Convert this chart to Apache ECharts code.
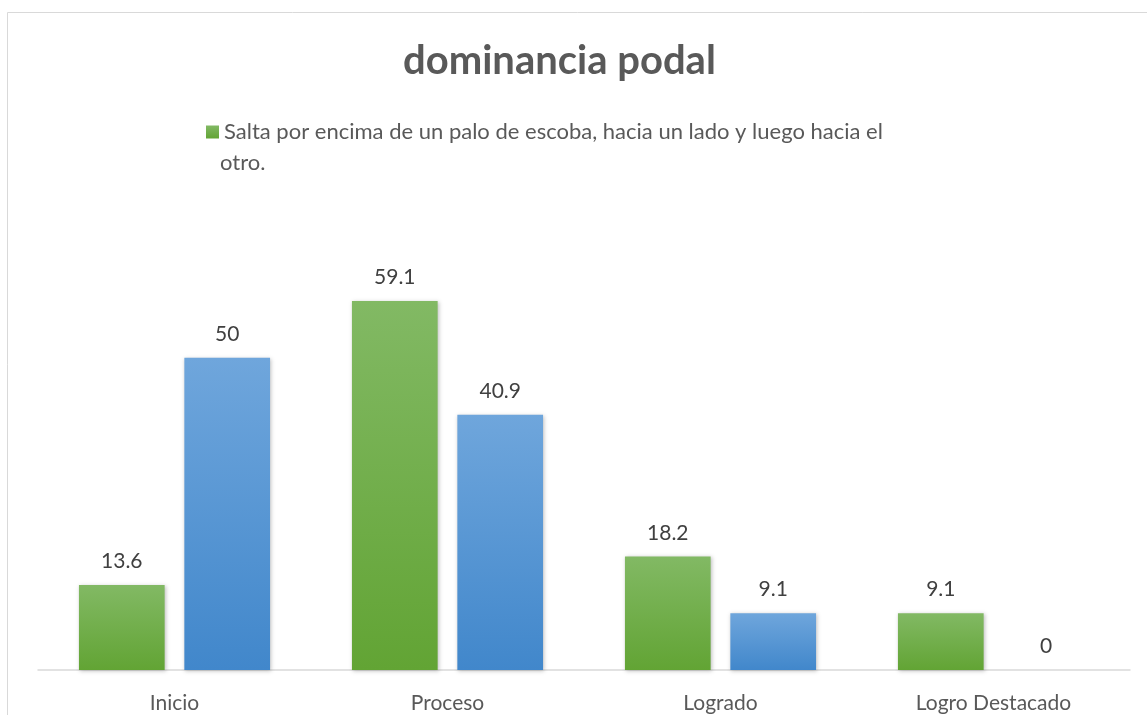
<!DOCTYPE html>
<html>
<head>
    <meta charset="utf-8">
    <title>dominancia podal</title>
    <script src="https://cdn.jsdelivr.net/npm/echarts@6/dist/echarts.min.js"></script>
    <style>
        html, body { margin: 0; padding: 0; background: #fff; }
    </style>
</head>
<body>
    <div id="main" style="width: 1147px;height:715px;"></div>
    <script type="text/javascript">
        // datos
        var categorias = ['Inicio', 'Proceso', 'Logrado', 'Logro Destacado'];
        var serieVerde = [13.6, 59.1, 18.2, 9.1];
        var serieAzul = [50, 40.9, 9.1, 0];
        var nombreVerde = 'Salta por encima de un palo de escoba, hacia un lado y luego hacia el otro.';
        var nombreAzul = 'Serie 2';

        var fuente = 'Lato';

        function degradado(arriba, abajo) {
            return new echarts.graphic.LinearGradient(0, 0, 0, 1, [
                { offset: 0, color: arriba },
                { offset: 1, color: abajo }
            ]);
        }

        var etiqueta = {
            show: true,
            position: 'top',
            distance: 13,
            color: '#404040',
            fontSize: 21,
            fontFamily: fuente
        };

        var myChart = echarts.init(document.getElementById('main'));
        myChart.setOption({
            animation: false,
            backgroundColor: '#fff',
            title: {
                text: 'dominancia podal',
                left: 398,
                top: 36,
                textStyle: {
                    fontFamily: fuente,
                    fontSize: 40,
                    fontWeight: 'bold',
                    color: '#595959'
                }
            },
            legend: {
                data: [{ name: nombreVerde, icon: 'rect' }],
                left: 201,
                top: 116,
                itemWidth: 13,
                itemHeight: 13,
                itemGap: 6,
                // la segunda linea del nombre va aparte, como en el original
                formatter: function (name) {
                    return name.replace(' otro.', '');
                },
                textStyle: {
                    fontFamily: fuente,
                    fontSize: 22,
                    color: '#595959'
                }
            },
            graphic: [{
                type: 'rect',
                shape: { x: 7.5, y: 12.5, width: 1160, height: 720 },
                style: { fill: 'none', stroke: '#d9d9d9', lineWidth: 1 },
                silent: true
            }, {
                type: 'text',
                left: 220,
                top: 152,
                style: {
                    text: 'otro.',
                    fontFamily: fuente,
                    fontSize: 22,
                    fill: '#595959'
                },
                silent: true
            }],
            grid: { left: 38, right: 17, top: 233, bottom: 45 },
            xAxis: {
                type: 'category',
                data: categorias,
                axisLine: { lineStyle: { color: '#d9d9d9', width: 1.5 } },
                axisTick: { show: false },
                axisLabel: {
                    margin: 23,
                    color: '#595959',
                    fontSize: 21,
                    fontFamily: fuente
                }
            },
            yAxis: {
                type: 'value',
                min: 0,
                max: 70,
                show: false,
                splitLine: { show: false }
            },
            series: [
                {
                    name: nombreVerde,
                    type: 'bar',
                    data: serieVerde,
                    barGap: '23%',
                    barCategoryGap: '30%',
                    itemStyle: {
                        color: degradado('#82b964', '#62a434'),
                        shadowBlur: 4,
                        shadowColor: 'rgba(0,0,0,0.25)',
                        shadowOffsetX: 1,
                        shadowOffsetY: 1
                    },
                    label: etiqueta
                },
                {
                    name: nombreAzul,
                    type: 'bar',
                    data: serieAzul,
                    itemStyle: {
                        color: degradado('#6fa6dc', '#4187cb'),
                        shadowBlur: 4,
                        shadowColor: 'rgba(0,0,0,0.25)',
                        shadowOffsetX: 1,
                        shadowOffsetY: 1
                    },
                    label: etiqueta
                }
            ]
        });
    </script>
</body>
</html>
